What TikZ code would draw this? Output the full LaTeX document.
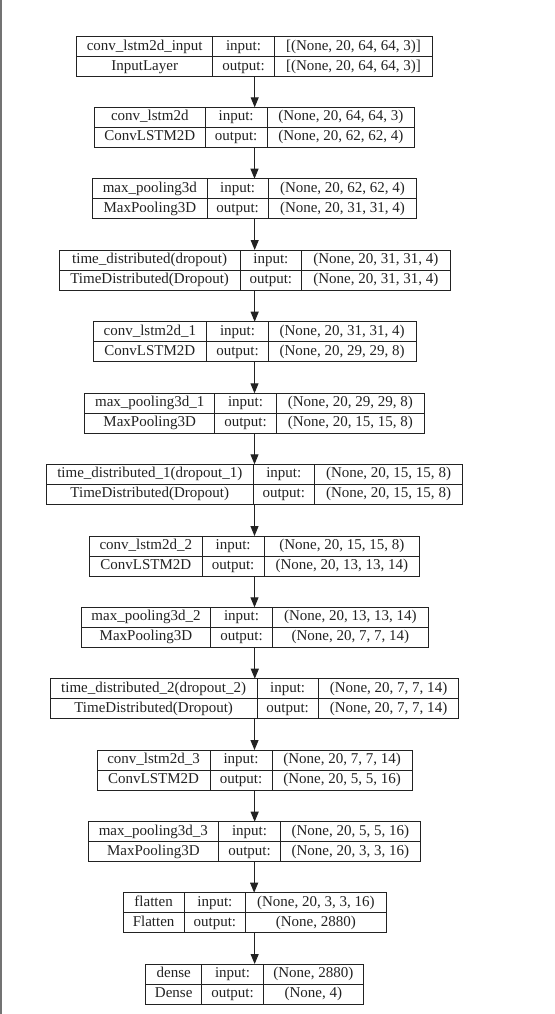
\documentclass[tikz,border=0pt]{standalone}
\usepackage{fontspec}
\setmainfont{Liberation Serif}
\usetikzlibrary{arrows.meta}
\definecolor{ink}{HTML}{222222}
\tikzset{
  layer/.style={draw=ink, line width=1pt, inner sep=0pt, outer sep=0pt, rectangle},
  layerline/.style={draw=ink, line width=1pt},
  cell/.style={inner sep=0pt, text=ink, font=\fontsize{15}{18}\selectfont, text height=10.5pt, text depth=3.5pt, anchor=center},
  conn/.style={draw=ink, line width=1pt, -{Triangle[length=10pt,width=8pt]}}
}
% #1 name, #2 left, #3 split a, #4 split b, #5 right, #6 top
\newcommand{\layerbox}[6]{%
  \node[layer, minimum width={#5-#2}, minimum height=40, anchor=north west] (#1) at (#2,#6) {};
  \draw[layerline] (#3,#6) -- (#3,{#6+40});
  \draw[layerline] (#4,#6) -- (#4,{#6+40});
  \draw[layerline] (#2,{#6+20}) -- (#5,{#6+20});
  \node[cell] (#1-inlab) at ({(#3+#4)/2},{#6+10}) {input:};
  \node[cell] (#1-outlab) at ({(#3+#4)/2},{#6+30}) {output:};
  \coordinate (#1-n1) at ({(#2+#3)/2},{#6+10});
  \coordinate (#1-n2) at ({(#2+#3)/2},{#6+30});
  \coordinate (#1-s1) at ({(#4+#5)/2},{#6+10});
  \coordinate (#1-s2) at ({(#4+#5)/2},{#6+30});
}
% #1 name, #2 layer name, #3 layer type, #4 input shape, #5 output shape
\newcommand{\layertext}[5]{%
  \node[cell] (#1-name) at (#1-n1) {#2};
  \node[cell] (#1-type) at (#1-n2) {#3};
  \node[cell] (#1-ishape) at (#1-s1) {#4};
  \node[cell] (#1-oshape) at (#1-s2) {#5};
}
\begin{document}
\begin{tikzpicture}[x=1pt,y=-1pt]
\useasboundingbox (0,0) rectangle (554,1014);
\fill[white] (0,0) rectangle (554,1014);
\fill[black!55] (0,0) rectangle (1.5,1014);

\layerbox{L1}{76.7}{212.7}{274.3}{432.7}{36.7}
\layertext{L1}{conv\_lstm2d\_input}{InputLayer}{[(None, 20, 64, 64, 3)]}{[(None, 20, 64, 64, 3)]}

\layerbox{L2}{94.3}{205.3}{267}{414.7}{107.3}
\layertext{L2}{conv\_lstm2d}{ConvLSTM2D}{(None, 20, 64, 64, 3)}{(None, 20, 62, 62, 4)}

\layerbox{L3}{92.7}{207}{268.3}{416.7}{178.7}
\layertext{L3}{max\_pooling3d}{MaxPooling3D}{(None, 20, 62, 62, 4)}{(None, 20, 31, 31, 4)}

\layerbox{L4}{59.3}{240}{301.7}{450}{250}
\layertext{L4}{time\_distributed(dropout)}{TimeDistributed(Dropout)}{(None, 20, 31, 31, 4)}{(None, 20, 31, 31, 4)}

\layerbox{L5}{93}{206.7}{268.3}{416}{321.7}
\layertext{L5}{conv\_lstm2d\_1}{ConvLSTM2D}{(None, 20, 31, 31, 4)}{(None, 20, 29, 29, 8)}

\layerbox{L6}{84.7}{214.7}{276.3}{424.3}{393.3}
\layertext{L6}{max\_pooling3d\_1}{MaxPooling3D}{(None, 20, 29, 29, 8)}{(None, 20, 15, 15, 8)}

\layerbox{L7}{46.3}{253.3}{314.3}{462.7}{464.3}
\layertext{L7}{time\_distributed\_1(dropout\_1)}{TimeDistributed(Dropout)}{(None, 20, 15, 15, 8)}{(None, 20, 15, 15, 8)}

\layerbox{L8}{89.3}{202.3}{264}{419.7}{536}
\layertext{L8}{conv\_lstm2d\_2}{ConvLSTM2D}{(None, 20, 15, 15, 8)}{(None, 20, 13, 13, 14)}

\layerbox{L9}{81.3}{210.7}{272.3}{428.3}{607.3}
\layertext{L9}{max\_pooling3d\_2}{MaxPooling3D}{(None, 20, 13, 13, 14)}{(None, 20, 7, 7, 14)}

\layerbox{L10}{50.3}{257}{318.3}{458.7}{678.7}
\layertext{L10}{time\_distributed\_2(dropout\_2)}{TimeDistributed(Dropout)}{(None, 20, 7, 7, 14)}{(None, 20, 7, 7, 14)}

\layerbox{L11}{97}{210}{272}{412.3}{750}
\layertext{L11}{conv\_lstm2d\_3}{ConvLSTM2D}{(None, 20, 7, 7, 14)}{(None, 20, 5, 5, 16)}

\layerbox{L12}{88}{218.7}{280.3}{420.3}{821.7}
\layertext{L12}{max\_pooling3d\_3}{MaxPooling3D}{(None, 20, 5, 5, 16)}{(None, 20, 3, 3, 16)}

\layerbox{L13}{123.3}{184}{245.7}{386}{892.7}
\layertext{L13}{flatten}{Flatten}{(None, 20, 3, 3, 16)}{(None, 2880)}

\layerbox{L14}{145.7}{201.7}{263.3}{363.3}{964}
\layertext{L14}{dense}{Dense}{(None, 2880)}{(None, 4)}

\foreach \a/\b in {L1/L2,L2/L3,L3/L4,L4/L5,L5/L6,L6/L7,L7/L8,L8/L9,L9/L10,L10/L11,L11/L12,L12/L13,L13/L14}
  \draw[conn] (\a.south) -- (\a.south |- \b.north);
\end{tikzpicture}
\end{document}
